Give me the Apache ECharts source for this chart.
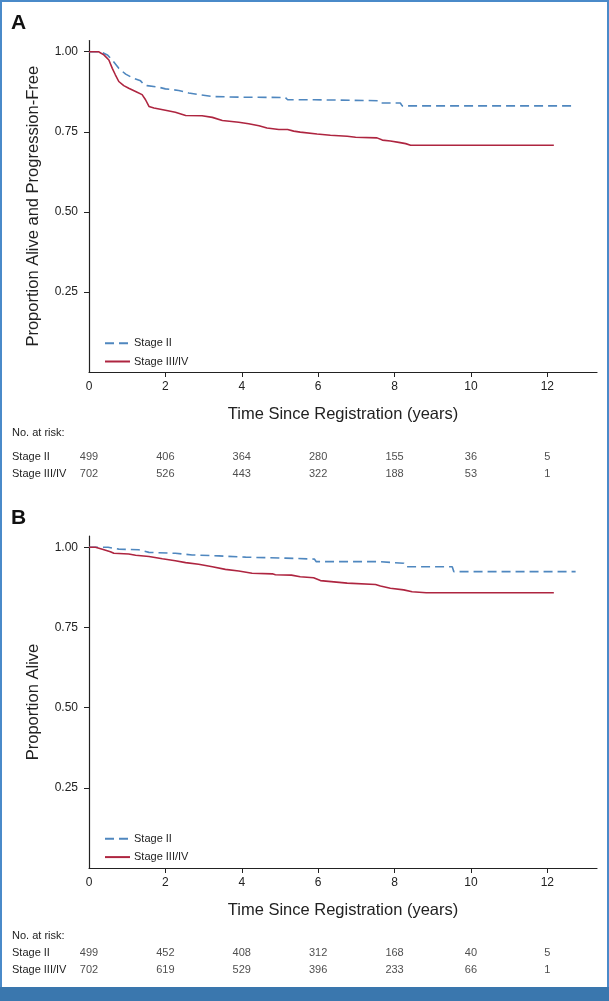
<!DOCTYPE html>
<html>
<head>
<meta charset="utf-8">
<script src="https://cdn.jsdelivr.net/npm/echarts@6/dist/echarts.min.js"></script>
<style>
html,body{margin:0;padding:0;background:#fff;}
#c{width:609px;height:1001px;}
</style>
</head>
<body>
<div id="c"></div>
<script>
// ---- data ----
const seriesNames = ['Stage II', 'Stage III/IV'];
const riskTimes = [0, 2, 4, 6, 8, 10, 12];
const xTicks = [0, 2, 4, 6, 8, 10, 12];
const yTicks = [0.25, 0.50, 0.75, 1.00];

// Panel A: progression-free survival
const pfsStageII = [[0,1.0],[0.3,1.0],[0.48,0.99],[0.61,0.974],[0.78,0.948],[0.96,0.930],[1.13,0.919],[1.35,0.909],[1.45,0.896],[1.52,0.894],[1.83,0.889],[2.0,0.884],[2.35,0.879],[2.61,0.871],[2.87,0.866],[3.23,0.860],[4.0,0.858],[5.14,0.857],[5.2,0.850],[5.9,0.850],[5.95,0.847],[7.6,0.847],[7.65,0.840],[8.15,0.840],[8.2,0.831],[12.74,0.831]];
const pfsStageIII = [[0,1.0],[0.25,1.0],[0.39,0.99],[0.52,0.974],[0.61,0.948],[0.69,0.928],[0.78,0.907],[0.91,0.894],[1.04,0.886],[1.22,0.876],[1.39,0.866],[1.48,0.85],[1.57,0.829],[1.70,0.824],[2.0,0.817],[2.26,0.811],[2.53,0.801],[2.96,0.800],[3.23,0.795],[3.49,0.785],[3.92,0.780],[4.18,0.775],[4.45,0.769],[4.66,0.762],[4.97,0.757],[5.2,0.757],[5.36,0.752],[5.53,0.749],[5.97,0.743],[6.32,0.739],[6.76,0.736],[6.98,0.733],[7.54,0.731],[7.68,0.724],[7.89,0.721],[8.11,0.717],[8.29,0.713],[8.42,0.708],[12.17,0.708]];
const pfsRiskII = [499, 406, 364, 280, 155, 36, 5];
const pfsRiskIII = [702, 526, 443, 322, 188, 53, 1];

// Panel B: overall survival
const osStageII = [[0,1.0],[0.5,1.0],[0.78,0.994],[1.3,0.992],[1.57,0.984],[2.26,0.981],[2.7,0.976],[3.4,0.973],[4.1,0.969],[5.14,0.966],[5.9,0.963],[5.95,0.955],[7.58,0.955],[7.63,0.950],[8.24,0.950],[8.3,0.939],[9.51,0.939],[9.55,0.924],[12.74,0.924]];
const osStageIII = [[0,1.0],[0.17,1.0],[0.35,0.994],[0.56,0.986],[0.65,0.981],[1.04,0.979],[1.22,0.975],[1.57,0.971],[1.92,0.964],[2.26,0.958],[2.53,0.952],[2.87,0.947],[3.23,0.939],[3.57,0.931],[3.92,0.926],[4.27,0.919],[4.80,0.917],[4.88,0.914],[5.3,0.913],[5.53,0.908],[5.88,0.905],[6.06,0.896],[6.41,0.892],[6.76,0.888],[7.50,0.884],[7.63,0.879],[7.89,0.872],[8.24,0.867],[8.46,0.861],[8.83,0.858],[12.17,0.858]];
const osRiskII = [499, 452, 408, 312, 168, 40, 5];
const osRiskIII = [702, 619, 529, 396, 233, 66, 1];

const xAxisTitle = 'Time Since Registration (years)';
const yTitleA = 'Proportion Alive and Progression-Free';
const yTitleB = 'Proportion Alive';

// ---- style ----
const FONT = '"Liberation Sans", Arial, sans-serif';
const BLUE = '#4f87bf';
const RED = '#ae2540';
const AX = '#222';

const chart = echarts.init(document.getElementById('c'), null, {renderer: 'canvas'});

function plotX(gi) {
  return {
    type: 'value', gridIndex: gi, min: 0, max: 13.3,
    axisLine: {show: true, lineStyle: {color: AX, width: 1.2}},
    axisTick: {show: true, length: 5, lineStyle: {color: AX}, customValues: xTicks.slice(1)},
    axisLabel: {show: true, customValues: xTicks, margin: 9, fontSize: 12, color: AX, fontFamily: FONT},
    splitLine: {show: false},
    name: xAxisTitle, nameLocation: 'middle', nameGap: 34,
    nameTextStyle: {fontSize: 16.5, color: AX, fontFamily: FONT}
  };
}
function plotY(gi, title) {
  return {
    type: 'value', gridIndex: gi, min: 0, max: 1.035,
    axisLine: {show: true, lineStyle: {color: AX, width: 1.2}},
    axisTick: {show: true, length: 5, lineStyle: {color: AX}, customValues: yTicks},
    axisLabel: {show: true, customValues: yTicks, margin: 11, fontSize: 12, color: AX, fontFamily: FONT,
      formatter: v => v.toFixed(2)},
    splitLine: {show: false},
    name: title, nameLocation: 'middle', nameGap: 47,
    nameTextStyle: {fontSize: 16.5, color: AX, fontFamily: FONT}
  };
}
function riskX(gi) {
  return {type: 'value', gridIndex: gi, min: 0, max: 13.3, show: false};
}
function riskY(gi) {
  return {
    type: 'category', gridIndex: gi, data: ['Stage III/IV', 'Stage II'],
    axisLine: {show: false}, axisTick: {show: false}, splitLine: {show: false},
    axisLabel: {show: true, align: 'left', margin: 77, fontSize: 11, color: AX, fontFamily: FONT}
  };
}
function kmLine(name, data, gi, color, dashed) {
  return {
    name: name, type: 'line', xAxisIndex: gi, yAxisIndex: gi, data: data,
    symbol: 'none', silent: true, animation: false,
    lineStyle: {color: color, width: 1.6, type: dashed ? [9, 5] : 'solid'},
    itemStyle: {color: color}
  };
}
function riskSeries(vals, row, gi) {
  return {
    type: 'scatter', xAxisIndex: gi, yAxisIndex: gi, symbolSize: 0, animation: false, silent: true,
    data: riskTimes.map((t, i) => [t, row, vals[i]]),
    label: {show: true, position: 'inside', formatter: p => String(p.data[2]),
      fontSize: 11, color: AX, fontFamily: FONT}
  };
}
function legend(top) {
  return {
    left: 99, top: top, orient: 'vertical', itemWidth: 25, itemHeight: 10, itemGap: 7.3,
    data: seriesNames, selectedMode: false,
    itemStyle: {opacity: 0, borderWidth: 0},
    textStyle: {fontSize: 11, color: AX, fontFamily: FONT, padding: [0, 0, 0, -1]}
  };
}

const option = {
  backgroundColor: '#fff',
  animation: false,
  grid: [
    {left: 89, top: 40.5, width: 508, height: 331.5},
    {left: 89, top: 448.5, width: 508, height: 34},
    {left: 89, top: 536, width: 508, height: 332},
    {left: 89, top: 944.2, width: 508, height: 34}
  ],
  xAxis: [plotX(0), riskX(1), plotX(2), riskX(3)],
  yAxis: [plotY(0, yTitleA), riskY(1), plotY(2, yTitleB), riskY(3)],
  legend: [legend(332.7), legend(828.3)],
  series: [
    kmLine('Stage II', pfsStageII, 0, BLUE, true),
    kmLine('Stage III/IV', pfsStageIII, 0, RED, false),
    riskSeries(pfsRiskII, 'Stage II', 1),
    riskSeries(pfsRiskIII, 'Stage III/IV', 1),
    kmLine('Stage II', osStageII, 2, BLUE, true),
    kmLine('Stage III/IV', osStageIII, 2, RED, false),
    riskSeries(osRiskII, 'Stage II', 3),
    riskSeries(osRiskIII, 'Stage III/IV', 3)
  ],
  graphic: [
    {type: 'rect', shape: {x: 0, y: 0, width: 2, height: 987}, style: {fill: '#4a8ac9'}, silent: true},
    {type: 'rect', shape: {x: 0, y: 0, width: 609, height: 2}, style: {fill: '#4a8ac9'}, silent: true},
    {type: 'rect', shape: {x: 607, y: 0, width: 2, height: 987}, style: {fill: '#4a8ac9'}, silent: true},
    {type: 'rect', shape: {x: 0, y: 987, width: 609, height: 14}, style: {fill: '#3a77ae'}, silent: true},
    {type: 'text', left: 11, top: 13, style: {text: 'A', font: 'bold 21px ' + FONT, fill: '#111'}},
    {type: 'text', left: 11, top: 508, style: {text: 'B', font: 'bold 21px ' + FONT, fill: '#111'}},
    {type: 'text', left: 12, top: 427, style: {text: 'No. at risk:', font: '11px ' + FONT, fill: AX}},
    {type: 'text', left: 12, top: 930, style: {text: 'No. at risk:', font: '11px ' + FONT, fill: AX}}
  ]
};
chart.setOption(option);
</script>
</body>
</html>
